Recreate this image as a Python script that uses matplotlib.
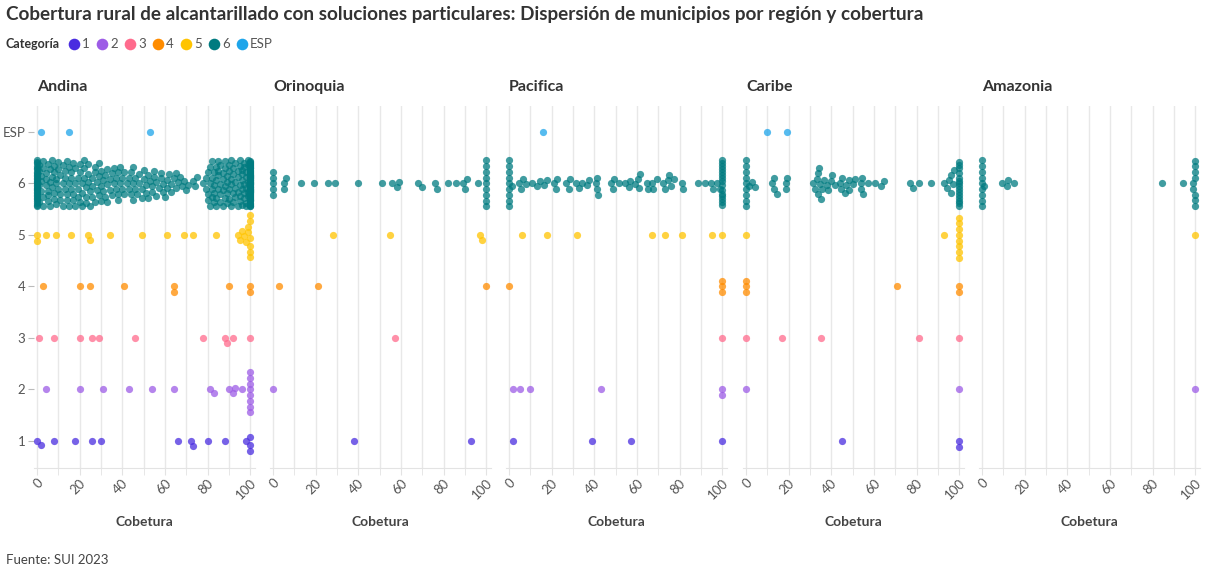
import matplotlib
matplotlib.use("Agg")
import matplotlib.pyplot as plt
import matplotlib.transforms as mtransforms
import numpy as np

plt.rcParams['font.family'] = ['Lato', 'DejaVu Sans']

# coverage values (0-100) of each municipality, by region and category
regions = ['Andina', 'Orinoquia', 'Pacifica', 'Caribe', 'Amazonia']
categories = ['1', '2', '3', '4', '5', '6', 'ESP']

# Andina, category 6: number of municipalities at each integer coverage 0..100
andina_6_counts = [
    30,
    4, 3, 4, 3, 4, 3, 3, 4, 3, 3,
    3, 3, 3, 3, 3, 3, 3, 3, 3, 3,
    3, 3, 3, 3, 2, 3, 3, 2, 3, 3,
    2, 2, 3, 2, 2, 2, 2, 3, 2, 2,
    2, 1, 2, 2, 3, 2, 1, 2, 2, 2,
    2, 2, 1, 2, 2, 2, 1, 2, 2, 1,
    2, 1, 2, 1, 2, 1, 1, 1, 1, 1,
    1, 0, 1, 1, 1, 0, 0, 1, 2, 3,
    3, 4, 4, 4, 4, 4, 4, 4, 4, 4,
    4, 4, 4, 4, 5, 5, 5, 5, 5,
    60,
]

andina = {
    '1': [0, 2, 8, 18, 26, 30, 66, 72, 73, 80, 88, 98, 100, 100, 100],
    '2': [4, 20, 31, 43, 54, 64, 81, 83, 90, 92, 93, 96,
          100, 100, 100, 100, 100, 100, 100, 100],
    '3': [1, 8, 20, 26, 29, 46, 78, 88, 89, 92, 100],
    '4': [3, 20, 25, 41, 64, 64, 90, 100, 100],
    '5': [0, 0, 4, 9, 16, 24, 25, 34, 49, 61, 69, 73, 84, 94, 95, 96, 97,
          98, 99, 99, 100, 100, 100, 100, 100, 100],
    '6': [v for v, n in enumerate(andina_6_counts) for _ in range(n)],
    'ESP': [2, 15, 53],
}

orinoquia = {
    '1': [38, 93],
    '2': [0],
    '3': [57],
    '4': [3, 21, 100],
    '5': [28, 55, 97, 98],
    '6': [0, 0, 0, 0, 0, 5, 5, 6, 13, 19, 26, 29, 40, 51, 56, 58, 59, 68,
          70, 76, 77, 82, 86, 89, 90, 91, 96,
          100, 100, 100, 100, 100, 100, 100, 100, 100],
    'ESP': [],
}

pacifica = {
    '1': [2, 39, 57, 100],
    '2': [2, 5, 10, 43, 100, 100],
    '3': [100],
    '4': [0, 100, 100, 100],
    '5': [6, 18, 32, 67, 73, 81, 95, 100],
    '6': [0, 0, 0, 0, 0, 0, 0, 0, 0,
          1.6, 4.7, 5.5, 6.6, 7.8, 11, 13.3, 14.4, 16.4, 17.8, 21, 22.2,
          22.7, 26.9, 28, 28.4, 31.3, 32.8, 34.2, 36.7, 37.5, 40.6, 41.1,
          41.1, 41.9, 47.7, 48.7, 49.2, 51.5, 54.2, 56.2, 56.7, 59, 60.6,
          61.1, 61.4, 64.5, 65, 67.2, 67.7, 69.2, 72.4, 73.1, 74.7, 74.8,
          75.8, 77.3, 81.2, 81.5, 88.6, 91.7, 94.5, 95.6, 97.6, 98.7,
          100, 100, 100, 100, 100, 100, 100, 100, 100, 100, 100, 100, 100,
          100, 100],
    'ESP': [16],
}

caribe = {
    '1': [45, 100, 100],
    '2': [0, 100],
    '3': [0, 17, 35, 81, 100],
    '4': [0, 0, 0, 71, 100, 100],
    '5': [0, 93, 100, 100, 100, 100, 100, 100, 100, 100],
    '6': [0, 0, 0, 0, 0, 0, 0, 0, 0, 1.2, 3, 4.2,
          12.2, 13, 13, 14.4, 18.8, 18.8, 19,
          31.4, 32.5, 33.3, 33.7, 33.7, 34.1, 34.6, 35, 35.7, 36.5, 38,
          38.5, 40, 40.4, 41.6, 44.3, 44.5, 45.2, 46.3, 46.9, 48.3, 48.5,
          50.2, 51.3, 53.7, 53.7, 54.6, 54.8, 57.1, 60.7, 63.1, 64.6,
          77.1, 78.4, 81.2, 86.8, 92.9, 94.3, 95.1, 95.9, 96.2, 97.2, 97.5,
          100, 100, 100, 100, 100, 100, 100, 100, 100, 100, 100, 100, 100,
          100, 100],
    'ESP': [10, 19],
}

amazonia = {
    '1': [],
    '2': [100],
    '3': [],
    '4': [],
    '5': [100],
    '6': [0, 0, 0, 0, 0, 0, 0, 0, 0, 1, 9.2, 11.6, 12, 14.9, 84.5, 94.4,
          99, 99, 100, 100, 100, 100, 100, 100, 100],
    'ESP': [],
}

region_data = [andina, orinoquia, pacifica, caribe, amazonia]

colors = {
    '1': '#4a2de0',
    '2': '#9d5ce6',
    '3': '#ff6b8d',
    '4': '#ff8c00',
    '5': '#ffc400',
    '6': '#007b80',
    'ESP': '#1ea5ea',
}

# ---- layout (pixels) ----
W, H = 1206, 569
zero_px = [37, 273, 509, 746, 982]
unit_px = 2.133          # pixels per coverage point
x_lo, x_hi = -1.5, 102
y_lo, y_hi = 0.475, 7.5
top_px, bottom_px = 106, 468
ypx = (bottom_px - top_px) / (y_hi - y_lo)

DOT = 5.7      # minimum centre distance in the swarm (px)
LIMIT = 23     # max vertical spread of a swarm (px)


def swarm(xs):
    """Simple beeswarm: vertical pixel offsets for the given x values."""
    xs = np.asarray(xs, dtype=float) * unit_px
    offs = np.zeros(len(xs))
    steps = np.arange(0.25, LIMIT + 0.01, 0.25)
    cand = np.concatenate([[0.0], np.ravel(np.column_stack([steps, -steps]))])
    px, py = [], []
    for i in np.argsort(xs, kind='stable'):
        x = xs[i]
        if px:
            ax_ = np.array(px)
            ay_ = np.array(py)
            near = np.abs(ax_ - x) < DOT
            nx, ny = ax_[near] - x, ay_[near]
        else:
            nx = ny = np.array([])
        if len(nx) == 0:
            y = 0.0
        else:
            d = np.sqrt(nx[None, :] ** 2 + (cand[:, None] - ny[None, :]) ** 2).min(axis=1)
            ok = d >= DOT
            y = cand[np.argmax(ok)] if ok.any() else cand[np.argmax(d)]
        offs[i] = y
        px.append(x)
        py.append(y)
    return offs


fig = plt.figure(figsize=(W / 100, H / 100), dpi=100)
shift = mtransforms.ScaledTranslation(4 / 100, -2 / 100, fig.dpi_scale_trans)

for k, (name, data) in enumerate(zip(regions, region_data)):
    left = zero_px[k] + x_lo * unit_px
    width = (x_hi - x_lo) * unit_px
    ax = fig.add_axes([left / W, 1 - bottom_px / H, width / W, (bottom_px - top_px) / H])
    ax.set_xlim(x_lo, x_hi)
    ax.set_ylim(y_lo, y_hi)

    for v in range(0, 101, 10):
        ax.axvline(v, color='#e8e8e8', lw=1, zorder=0)

    for j, cat in enumerate(categories):
        xs = data[cat]
        if not xs:
            continue
        offs = swarm(xs)
        ys = (j + 1) - offs / ypx
        ax.scatter(xs, ys, s=27, color=colors[cat], alpha=0.75,
                   linewidths=0, zorder=3, clip_on=False)

    for s in ['top', 'right', 'left']:
        ax.spines[s].set_visible(False)
    ax.spines['bottom'].set_color('#e3e3e3')

    ax.set_xticks(range(0, 101, 20))
    ax.set_xticks(range(10, 100, 20), minor=True)
    ax.set_xticklabels([str(v) for v in range(0, 101, 20)], rotation=45,
                       ha='right', va='center', rotation_mode='anchor')
    ax.tick_params(axis='x', which='both', length=5, color='#e3e3e3',
                   labelsize=9.5, labelcolor='#555555', pad=3)
    for lab in ax.get_xticklabels():
        lab.set_transform(lab.get_transform() + shift)

    if k == 0:
        ax.set_yticks(range(1, 8))
        ax.set_yticklabels(categories)
        ax.tick_params(axis='y', length=4, color='#bbbbbb', labelsize=9.5,
                       labelcolor='#555555', pad=2)
    else:
        ax.set_yticks([])

    ax.set_xlabel('Cobetura', fontsize=10, fontweight='bold', color='#444444',
                  labelpad=10)
    ax.text(0, (bottom_px - 87) / (bottom_px - top_px),
            name, transform=ax.get_xaxis_transform(),
            fontsize=11.5, fontweight='bold', color='#333333', ha='left', va='center')

# titles, legend, source in pixel coordinates
ov = fig.add_axes([0, 0, 1, 1], zorder=-1)
ov.set_xlim(0, W)
ov.set_ylim(H, 0)
ov.axis('off')

ov.text(6, 14, 'Cobertura rural de alcantarillado con soluciones particulares: '
        'Dispersión de municipios por región y cobertura',
        fontsize=13.6, fontweight='bold', color='#333333', va='center', ha='left')

ov.text(6, 44, 'Categoría', fontsize=9, fontweight='bold', color='#333333',
        va='center', ha='left')
leg_x = [74, 102, 130, 158, 186, 214, 242]
for cx, cat in zip(leg_x, categories):
    ov.scatter([cx], [44], s=70, color=colors[cat], linewidths=0)
    ov.text(cx + 8, 44, cat, fontsize=9.5, color='#555555', va='center', ha='left')

ov.text(6, 560, 'Fuente: SUI 2023', fontsize=9.5, color='#444444',
        va='center', ha='left')

fig.savefig('out.png', dpi=100)
